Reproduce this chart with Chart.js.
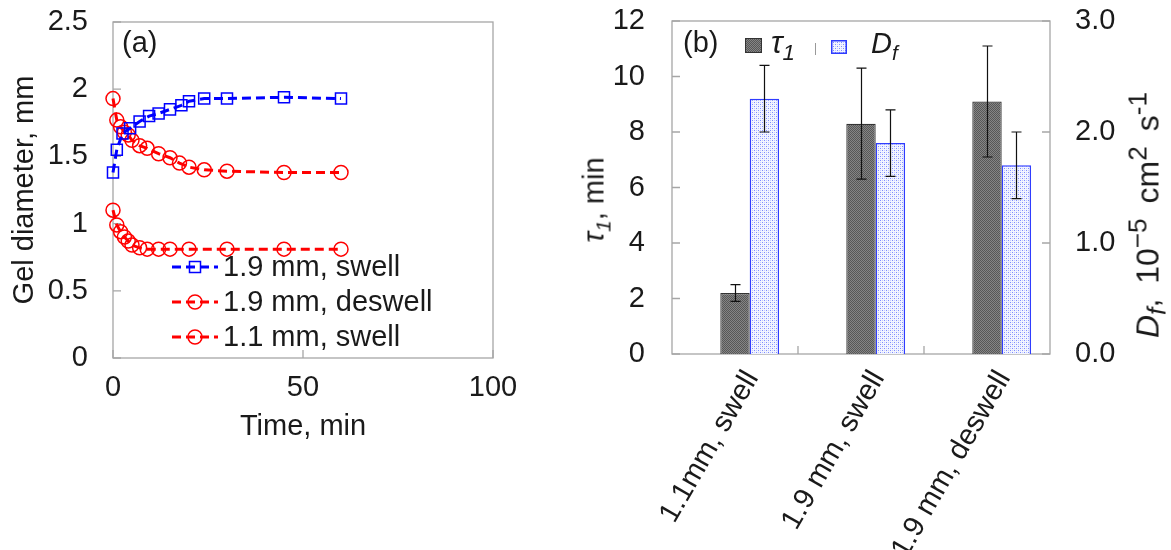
<!DOCTYPE html>
<html><head><meta charset="utf-8">
<script src="https://cdn.jsdelivr.net/npm/chart.js@4"></script>
<style>
html,body{margin:0;padding:0;background:#fff;}
body{width:1171px;height:550px;position:relative;overflow:hidden;font-family:"Liberation Sans",Arial,sans-serif;color:#1a1a1a;}
canvas.chart{position:absolute;top:0;}
#ca{left:0;}
#cb{left:560px;}
.lbl{position:absolute;font-size:29px;line-height:29px;white-space:nowrap;}
.rot{position:absolute;font-size:29px;line-height:29px;white-space:nowrap;transform:translate(-50%,-50%) rotate(-90deg);}
sub,sup{font-size:72%;line-height:0;}
.legrow{position:absolute;height:27px;}
.legrow svg{position:absolute;left:0;}
.legrow span{position:absolute;font-size:29px;line-height:29px;white-space:nowrap;}
.sw{position:absolute;box-sizing:border-box;}
#dfTitle sup,#dfTitle sub{font-size:82%;}
</style></head><body>
<canvas id="ca" class="chart" width="540" height="550" style="width:540px;height:550px"></canvas>
<canvas id="cb" class="chart" width="611" height="550" style="width:611px;height:550px"></canvas>

<div class="lbl" style="left:122px;top:28px;">(a)</div>
<div id="legA"></div>

<div class="lbl" style="left:683px;top:28px;">(b)</div>
<canvas id="swTau" class="sw" width="17" height="15" style="left:745px;top:38px;width:17px;height:15px;"></canvas>
<div class="lbl" style="left:771px;top:28px;font-size:31px;"><i>τ</i><sub><i>1</i></sub></div>
<div style="position:absolute;left:815px;top:43px;width:1px;height:12px;background:#999;"></div>
<canvas id="swDf" class="sw" width="16" height="14" style="left:831px;top:40px;width:16px;height:14px;"></canvas>
<div class="lbl" style="left:871px;top:29px;"><i>D</i><sub><i>f</i></sub></div>

<div class="rot" style="left:594px;top:200px;"><i>τ</i><sub><i>1</i></sub>, min</div>
<div id="dfTitle" class="rot" style="left:1148px;top:215px;font-size:32px;word-spacing:6px;"><i>D</i><sub><i>f</i></sub>, 10<sup>−5</sup> cm<sup>2</sup> s<sup>-1</sup></div>

<script>
// ---------- Panel (a) data ----------
const seriesNamesA = ['1.9 mm, swell', '1.9 mm, deswell', '1.1 mm, swell'];
const timeSwell19 = [0, 1, 2.5, 4.5, 7, 9.5, 12, 15, 18, 20, 24, 30, 45, 60];
const diamSwell19 = [1.38, 1.55, 1.67, 1.71, 1.76, 1.80, 1.82, 1.85, 1.88, 1.91, 1.93, 1.93, 1.94, 1.93];
const timeDeswell19 = [0, 1, 2, 3, 4, 5, 7, 9, 12, 15, 17.5, 20, 24, 30, 45, 60];
const diamDeswell19 = [1.93, 1.77, 1.72, 1.68, 1.66, 1.62, 1.58, 1.56, 1.52, 1.49, 1.45, 1.42, 1.40, 1.39, 1.38, 1.38];
const timeSwell11 = [0, 1, 2, 3, 4, 5, 7, 9, 12, 15, 20, 30, 45, 60];
const diamSwell11 = [1.10, 0.99, 0.94, 0.90, 0.87, 0.84, 0.82, 0.81, 0.81, 0.81, 0.81, 0.81, 0.81, 0.81];

// ---------- Panel (b) data ----------
const categoriesB = ['1.1mm, swell', '1.9 mm, swell', '1.9 mm, deswell'];
const tau1 = [2.2, 8.3, 9.1];
const tau1Err = [0.3, 2.0, 2.0];
const diffCoef = [2.3, 1.9, 1.7];
const diffCoefErr = [0.3, 0.3, 0.3];

Chart.defaults.font.family = '"Liberation Sans", Arial, sans-serif';
Chart.defaults.font.size = 29;
Chart.defaults.color = '#1a1a1a';

const FRAME = '#a6a6a6';

function pairs(xs, ys) { return xs.map((x, i) => ({x: x, y: ys[i]})); }

function makePattern(size, bg, dots) {
  const c = document.createElement('canvas');
  c.width = c.height = size;
  const g = c.getContext('2d');
  g.fillStyle = bg; g.fillRect(0, 0, size, size);
  dots.forEach(d => { g.fillStyle = d[2]; g.fillRect(d[0], d[1], 1, 1); });
  return g.createPattern(c, 'repeat');
}
const tauPattern = makePattern(2, '#575757', [[1,0,'#858585'],[0,1,'#858585']]);
const dfPattern = makePattern(4, '#f3f5ff', [[0,0,'#7d8bff'],[2,2,'#7d8bff'],[2,0,'#c5ccff'],[0,2,'#c5ccff']]);

(function(){
  const a = document.getElementById('swTau').getContext('2d');
  a.fillStyle = tauPattern; a.fillRect(0,0,17,15); a.strokeStyle='#333'; a.lineWidth=1; a.strokeRect(0.5,0.5,16,14);
  const b = document.getElementById('swDf').getContext('2d');
  b.fillStyle = dfPattern; b.fillRect(0,0,16,14); b.strokeStyle='#2f3cff'; b.lineWidth=1.5; b.strokeRect(0.75,0.75,14.5,12.5);
})();

(function(){
  const rows = [
    {name: seriesNamesA[0], color:'#0000ff', shape:'rect', cy:267},
    {name: seriesNamesA[1], color:'#ff0000', shape:'circle', cy:302},
    {name: seriesNamesA[2], color:'#ff0000', shape:'circle', cy:337}
  ];
  const host = document.getElementById('legA');
  rows.forEach(r => {
    const d = document.createElement('div');
    d.className = 'legrow';
    d.style.left = '172px'; d.style.top = (r.cy - 13) + 'px';
    const mk = r.shape === 'rect'
      ? '<rect x="17.5" y="7.5" width="11" height="11" fill="none" stroke="'+r.color+'" stroke-width="1.5"/>'
      : '<circle cx="23" cy="13" r="7" fill="none" stroke="'+r.color+'" stroke-width="1.5"/>';
    d.innerHTML = '<svg width="46" height="26" style="top:0"><line x1="0" y1="13" x2="46" y2="13" stroke="'+r.color+'" stroke-width="3" stroke-dasharray="9 5"/>'+mk+'</svg>' +
      '<span style="left:51px;top:-2px">' + r.name + '</span>';
    host.appendChild(d);
  });
})();

const frameA = {
  id: 'frameA',
  beforeDatasetsDraw(chart) {
    const ctx = chart.ctx, a = chart.chartArea;
    ctx.save();
    ctx.strokeStyle = FRAME; ctx.lineWidth = 1.3;
    ctx.strokeRect(a.left, a.top, a.right - a.left, a.bottom - a.top);
    ctx.beginPath();
    const ys = chart.scales.y, xs = chart.scales.x;
    ys.ticks.forEach(t => { const p = ys.getPixelForValue(t.value); ctx.moveTo(a.left, p); ctx.lineTo(a.left + 8, p); });
    xs.ticks.forEach(t => { const p = xs.getPixelForValue(t.value); ctx.moveTo(p, a.bottom); ctx.lineTo(p, a.bottom - 8); });
    ctx.stroke();
    ctx.restore();
  }
};

const frameB = {
  id: 'frameB',
  beforeDatasetsDraw(chart) {
    const ctx = chart.ctx, a = chart.chartArea;
    ctx.save();
    ctx.strokeStyle = FRAME; ctx.lineWidth = 1.3;
    ctx.strokeRect(a.left, a.top, a.right - a.left, a.bottom - a.top);
    ctx.beginPath();
    const ys = chart.scales.y, y2 = chart.scales.y2, xs = chart.scales.x;
    ys.ticks.forEach(t => { const p = ys.getPixelForValue(t.value); ctx.moveTo(a.left, p); ctx.lineTo(a.left + 8, p); });
    y2.ticks.forEach(t => { const p = y2.getPixelForValue(t.value); ctx.moveTo(a.right, p); ctx.lineTo(a.right - 8, p); });
    for (let i = 1; i < xs.ticks.length; i++) {
      const p = (xs.getPixelForTick(i - 1) + xs.getPixelForTick(i)) / 2;
      ctx.moveTo(p, a.bottom); ctx.lineTo(p, a.bottom - 8);
    }
    ctx.stroke();
    ctx.restore();
  }
};

const errorBars = {
  id: 'errorBars',
  afterDatasetsDraw(chart) {
    const ctx = chart.ctx;
    ctx.save();
    ctx.strokeStyle = '#111'; ctx.lineWidth = 1.2;
    chart.data.datasets.forEach((ds, i) => {
      if (!ds.errors) return;
      const meta = chart.getDatasetMeta(i);
      const sc = chart.scales[ds.yAxisID];
      meta.data.forEach((bar, j) => {
        const v = ds.data[j], e = ds.errors[j];
        const yt = sc.getPixelForValue(v + e), yb = sc.getPixelForValue(v - e);
        const x = Math.round(bar.x) + 0.5;
        ctx.beginPath();
        ctx.moveTo(x, yt); ctx.lineTo(x, yb);
        ctx.moveTo(x - 5, yt); ctx.lineTo(x + 5, yt);
        ctx.moveTo(x - 5, yb); ctx.lineTo(x + 5, yb);
        ctx.stroke();
      });
    });
    ctx.restore();
  }
};

function lineDs(label, xs, ys, color, shape, r) {
  return {
    label: label, data: pairs(xs, ys),
    borderColor: color, borderWidth: 3, borderDash: [9, 5],
    pointStyle: shape, pointRadius: r, pointBorderWidth: 1.5,
    pointBorderColor: color, pointBackgroundColor: 'rgba(0,0,0,0)',
    fill: false, tension: 0, clip: false
  };
}

function fixV(width) {
  return function(s) { s.width = width; s.paddingTop = 0; s.paddingBottom = 0; };
}

new Chart(document.getElementById('ca'), {
  type: 'line',
  data: {
    datasets: [
      lineDs(seriesNamesA[0], timeSwell19, diamSwell19, '#0000ff', 'rect', 7.8),
      lineDs(seriesNamesA[1], timeDeswell19, diamDeswell19, '#ff0000', 'circle', 7),
      lineDs(seriesNamesA[2], timeSwell11, diamSwell11, '#ff0000', 'circle', 7)
    ]
  },
  options: {
    responsive: false, animation: false, devicePixelRatio: 1,
    layout: {padding: {left: 0, right: 47, top: 22, bottom: 0}},
    plugins: {legend: {display: false}, tooltip: {enabled: false}},
    scales: {
      x: {
        type: 'linear', min: 0, max: 100,
        ticks: {stepSize: 50, padding: 13, maxRotation: 0},
        grid: {display: false, drawTicks: false}, border: {display: false},
        title: {display: true, text: 'Time, min', padding: {top: 0, bottom: 106}},
        afterFit(s) { s.height = 192; }
      },
      y: {
        type: 'linear', min: 0, max: 2.5,
        ticks: {stepSize: 0.5, padding: 25, callback: v => String(v)},
        grid: {display: false, drawTicks: false}, border: {display: false},
        title: {display: true, text: 'Gel diameter, mm', padding: {top: 8, bottom: 0}},
        afterFit: fixV(113)
      }
    }
  },
  plugins: [frameA]
});

new Chart(document.getElementById('cb'), {
  type: 'bar',
  data: {
    labels: categoriesB,
    datasets: [
      {label: 'spacer', data: categoriesB.map(() => null), yAxisID: 'y'},
      {label: 'τ1', data: tau1, errors: tau1Err, yAxisID: 'y', backgroundColor: tauPattern, borderColor: '#333333', borderWidth: 1.2},
      {label: 'Df', data: diffCoef, errors: diffCoefErr, yAxisID: 'y2', backgroundColor: dfPattern, borderColor: '#2f3cff', borderWidth: 1.5}
    ]
  },
  options: {
    responsive: false, animation: false, devicePixelRatio: 1,
    datasets: {bar: {categoryPercentage: 0.7, barPercentage: 1.0}},
    layout: {padding: {left: 0, right: 0, top: 21, bottom: 0}},
    plugins: {legend: {display: false}, tooltip: {enabled: false}},
    scales: {
      x: {
        ticks: {minRotation: 60, maxRotation: 60, autoSkip: false, padding: 11, labelOffset: 17},
        grid: {display: false, drawTicks: false}, border: {display: false},
        afterFit(s) { s.height = 196; }
      },
      y: {
        position: 'left', min: 0, max: 12,
        ticks: {stepSize: 2, padding: 27},
        grid: {display: false, drawTicks: false}, border: {display: false},
        afterFit: fixV(112)
      },
      y2: {
        position: 'right', min: 0, max: 3,
        ticks: {stepSize: 1, padding: 25, callback: v => Number(v).toFixed(1)},
        grid: {display: false, drawTicks: false}, border: {display: false},
        afterFit: fixV(121)
      }
    }
  },
  plugins: [frameB, errorBars]
});
</script>
</body></html>
